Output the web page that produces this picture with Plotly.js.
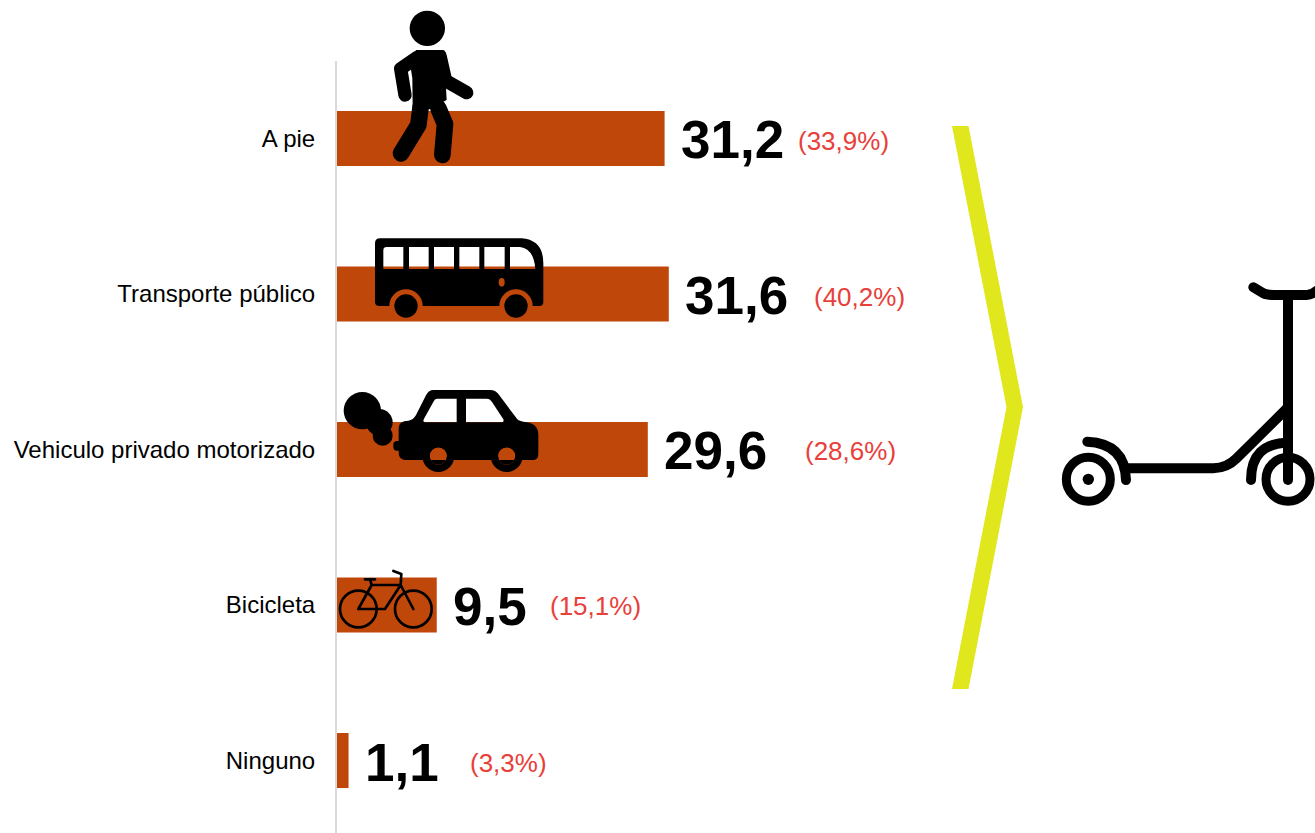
<!DOCTYPE html>
<html><head><meta charset="utf-8">
<script src="https://cdn.plot.ly/plotly-3.0.1.min.js"></script>
<style>html,body{margin:0;padding:0;background:#fff;overflow:hidden}#c{width:1315px;height:833px}</style>
</head><body><div id="c"></div>
<script>
const categories = ["A pie","Transporte público","Vehiculo privado motorizado","Bicicleta","Ninguno"];
const values = [31.2,31.6,29.6,9.5,1.1];
const valueLabels = ["31,2","31,6","29,6","9,5","1,1"];
const shareLabels = ["(33,9%)","(40,2%)","(28,6%)","(15,1%)","(3,3%)"];

const W=1315,H=833,L=337,T=61;
const px=x=>(x-L)/(W-L), py=y=>1-(y-T)/(H-T);
const shareLeft=[798,814,805,550,470];
const shareShift=[-2.5,-3.5,-2,-1,-2];
const BLACK='#000';
function circ(cx,cy,r){return `M${cx-r} ${cy}A${r} ${r} 0 1 0 ${cx+r} ${cy}A${r} ${r} 0 1 0 ${cx-r} ${cy}Z`;}
function icon(x,y,w,h,body){
  const svg=`<svg xmlns="http://www.w3.org/2000/svg" width="${w*3}" height="${h*3}" viewBox="0 0 ${w*3} ${h*3}">${body}</svg>`;
  return {source:'data:image/svg+xml;base64,'+btoa(svg),xref:'paper',yref:'paper',x:px(x),y:py(y),sizex:w/(W-L),sizey:h/(H-T),xanchor:'left',yanchor:'top',sizing:'stretch',layer:'above'};
}
const walker=`<circle cx="292" cy="85" r="53"/><path d="M258 150H338Q346 150 350 165L365 232L348 265L350 300L300 328L248 320L247 235L240 190Z"/>
<g fill="none" stroke="#000" stroke-linecap="round" stroke-linejoin="round"><path stroke-width="40" d="M352 245L410 278"/><path stroke-width="40" d="M262 172L212 206L225 285"/><path stroke-width="50" d="M272 320L265 375L213 460"/><path stroke-width="50" d="M325 325L345 372L337 465"/></g>`;
const bus=`<path fill-rule="evenodd" d="M150 40H575Q640 45 640 115V232Q640 243 628 243H608A50 50 0 0 0 508 243H278A50 50 0 0 0 178 243H148Q135 243 135 230V55Q135 40 150 40Z
M170 66H220V132H160V76Q160 66 170 66Z M237 66H296V132H237Z M312 66H372V132H312Z M388 66H448V132H388Z M463 66H524V132H463Z M540 66H570Q612 72 616 132H540Z"/>
<ellipse cx="515" cy="172" rx="9" ry="13" fill="#c0470a"/><circle cx="228" cy="243" r="35"/><circle cx="558" cy="243" r="35"/>`;
const car=`<path fill-rule="evenodd" d="M310 30H480Q498 30 508 46L562 118Q568 124 590 127Q625 132 625 165V222Q625 240 608 240H230Q206 240 206 218V145Q206 122 235 122Q250 120 258 105L288 46Q296 30 310 30Z
M322 56H380V127H285Q277 126 282 116L310 66Q314 56 322 56Z M408 56H470Q480 56 486 66L520 118Q523 127 515 127H408Z ${circ(325,228,26)} ${circ(530,228,26)}"/>
<path fill-rule="evenodd" d="${circ(325,228,48)} ${circ(325,228,26)}"/><path fill-rule="evenodd" d="${circ(530,228,48)} ${circ(530,228,26)}"/>
<circle cx="97" cy="92" r="56"/><circle cx="148" cy="127" r="40"/><circle cx="158" cy="167" r="30"/><rect x="190" y="183" width="30" height="29" rx="11"/>`;
const bike=`<g fill="none" stroke="#000" stroke-width="8" stroke-linecap="round" stroke-linejoin="round"><circle cx="85" cy="147" r="55"/><circle cx="250" cy="147" r="55"/>
<path d="M85 147L125 75H212L165 147H85M125 75L120 58M105 58H135M250 147L212 75L214 42L190 33"/></g>`;
const scooter=`<g fill="none" stroke="#000" stroke-width="30" stroke-linecap="round" stroke-linejoin="round"><path d="M610 52L640 70Q650 75 670 75H770Q785 75 800 62"/><path d="M714 80V630"/><path d="M228 595H490Q530 595 560 565L714 412"/><path d="M112 515Q225 520 228 630"/><path d="M603 630Q603 520 714 518"/><circle cx="115" cy="628" r="66" stroke-width="27"/><circle cx="714" cy="628" r="66" stroke-width="27"/></g><circle cx="115" cy="628" r="17"/>`;

const images=[icon(330,0,230,170,walker),icon(330,225,230,110,bus),icon(330,380,230,110,car),icon(330,560,120,80,bike),icon(1050,270,265,250,scooter)];

const chevron=[[952,126],[968.5,126],[1023,407],[968.5,689],[952,689],[1006.5,407]];
const chevronPath='M'+chevron.map(p=>px(p[0]).toFixed(5)+','+py(p[1]).toFixed(5)).join('L')+'Z';

const annotations=[];
categories.forEach((c,i)=>{
  annotations.push({x:values[i],y:c,xref:'x',yref:'y',text:valueLabels[i],showarrow:false,xanchor:'left',yanchor:'middle',xshift:16,yshift:-1.5,borderpad:0,borderwidth:0,
    font:{family:'"Liberation Sans",Arial,sans-serif',size:53,color:BLACK,weight:700}});
  annotations.push({x:px(shareLeft[i]),y:c,xref:'paper',yref:'y',text:shareLabels[i],showarrow:false,xanchor:'left',yanchor:'middle',yshift:shareShift[i],borderpad:0,borderwidth:0,
    font:{family:'"Liberation Sans",Arial,sans-serif',size:26,color:'#e8403a'}});
});

Plotly.newPlot('c',[{type:'bar',orientation:'h',y:categories,x:values,width:0.354,marker:{color:'#c0470a',line:{width:0}},hoverinfo:'skip',cliponaxis:false}],{
  width:W,height:H,margin:{l:L,r:0,t:T,b:0,pad:0},paper_bgcolor:'#fff',plot_bgcolor:'#fff',showlegend:false,
  xaxis:{range:[0,(W-L)/10.5],visible:false,fixedrange:true},
  yaxis:{type:'category',categoryorder:'array',categoryarray:categories,range:[4.466,-0.498],showgrid:false,zeroline:false,showline:true,linecolor:'#d9d9d9',linewidth:2,ticks:'',ticklabelstandoff:15,automargin:false,fixedrange:true,
    tickfont:{family:'"Liberation Sans",Arial,sans-serif',size:24,color:'#000'}},
  images,annotations,
  shapes:[{type:'path',xref:'paper',yref:'paper',path:chevronPath,fillcolor:'#e0e81d',line:{width:0},layer:'above'}]
},{displayModeBar:false,staticPlot:true});
</script></body></html>
